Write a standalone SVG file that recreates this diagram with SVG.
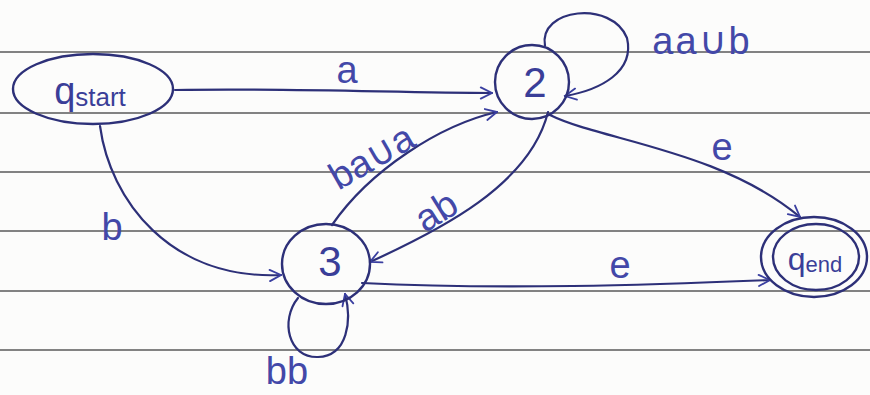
<svg xmlns="http://www.w3.org/2000/svg" width="870" height="395" viewBox="0 0 870 395">
<style>
.rule{stroke:#5a5a5a;stroke-width:1.6}
.node{fill:none;stroke:#2d3078;stroke-width:2.4}
.edge{fill:none;stroke:#2d3078;stroke-width:2.2;stroke-linecap:round}
.lbl{font-family:"Liberation Sans",Arial,sans-serif;fill:#4348a8;font-size:38px;text-anchor:middle}
.nl{font-family:"Liberation Sans",Arial,sans-serif;fill:#3a3e98;text-anchor:middle}
</style>
<defs>
<marker id="arr" viewBox="0 0 20 20" refX="18" refY="10" markerWidth="14" markerHeight="14" markerUnits="userSpaceOnUse" orient="auto">
<path d="M2,2 L18,10 L2,18" fill="none" stroke="#3a3fa0" stroke-width="2.6" stroke-linecap="round"/>
</marker>
</defs>
<rect width="870" height="395" fill="#fcfcfb"/>
<g id="paper">
<line class="rule" x1="0" y1="52" x2="870" y2="52"/>
<line class="rule" x1="0" y1="113" x2="870" y2="113"/>
<line class="rule" x1="0" y1="172" x2="870" y2="172"/>
<line class="rule" x1="0" y1="231" x2="870" y2="231"/>
<line class="rule" x1="0" y1="291" x2="870" y2="291"/>
<line class="rule" x1="0" y1="350" x2="870" y2="350"/>
</g>
<g id="connectors">
<path class="edge" d="M175,90 C300,88 400,93 492,93" marker-end="url(#arr)"/>
<path class="edge" d="M100,126 C110,200 170,280 281,275" marker-end="url(#arr)"/>
<path class="edge" d="M332,225 C370,170 440,125 497,112" marker-end="url(#arr)"/>
<path class="edge" d="M548,112 C530,185 440,230 370,262" marker-end="url(#arr)"/>
<path class="edge" d="M550,115 C600,140 720,150 800,217" marker-end="url(#arr)"/>
<path class="edge" d="M362,283 C500,290 650,285 770,280" marker-end="url(#arr)"/>
<path class="edge" d="M545,46 C538,8 612,0 627,38 C635,72 600,90 565,96" marker-end="url(#arr)"/>
<path class="edge" d="M298,298 C280,320 288,358 318,357 C348,356 352,320 345,294" marker-end="url(#arr)"/>
<text class="lbl" x="347" y="83">a</text>
<text class="lbl" x="112" y="240">b</text>
<text class="lbl" font-size="36" transform="translate(378,168) rotate(-30)">ba∪a</text>
<text class="lbl" transform="translate(443,222) rotate(-32)">ab</text>
<text class="lbl" x="722" y="160">e</text>
<text class="lbl" x="620" y="278">e</text>
<text class="lbl" x="702" y="54" letter-spacing="2">aa∪b</text>
<text class="lbl" x="287" y="384" font-size="34">bb</text>
</g>
<g id="qstart">
<ellipse class="node" cx="93" cy="89" rx="80" ry="35"/>
<text class="nl" x="90" y="104" font-size="38">q<tspan font-size="26" dy="2">start</tspan></text>
</g>
<g id="n2">
<circle class="node" cx="532" cy="82" r="37"/>
<text class="nl" x="535" y="97" font-size="42">2</text>
</g>
<g id="n3">
<ellipse class="node" cx="326" cy="264" rx="44" ry="40"/>
<text class="nl" x="330" y="276" font-size="42">3</text>
</g>
<g id="qend">
<ellipse class="node" cx="814" cy="257" rx="53" ry="40"/>
<ellipse class="node" cx="816" cy="257" rx="43" ry="33"/>
<text class="nl" x="815" y="270" font-size="32">q<tspan font-size="22" dy="2">end</tspan></text>
</g>
</svg>
